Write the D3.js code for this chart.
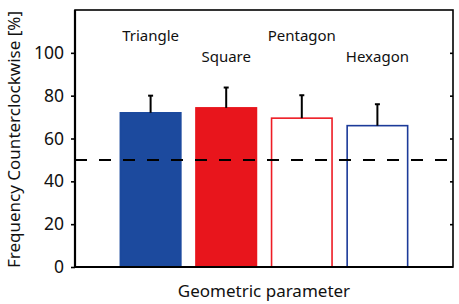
<!DOCTYPE html>
<html>
<head>
<meta charset="utf-8">
<script src="https://d3js.org/d3.v7.min.js"></script>
<style>
  body { margin: 0; background: #fff; }
  text { font-family: "Noto Sans", sans-serif; fill: #111; }
</style>
</head>
<body>
<script>
// data
const shapes = ["Triangle", "Square", "Pentagon", "Hexagon"];
const freqCCW = [72, 74.3, 69.5, 66];
const errUp = [8, 9.5, 10.7, 10];
const yTicks = [0, 20, 40, 60, 80, 100];
const chance = 50;

const fills = ["#1c4a9e", "#e8151c", "#fff", "#fff"];
const strokes = ["#1c4a9e", "#e8151c", "#ee1c24", "#1c3a99"];
const labelRow = [0, 1, 0, 1];

const W = 459, H = 304;
const m = { left: 75, right: 6, top: 10, bottom: 37 };

const svg = d3.select("body").append("svg")
    .attr("width", W)
    .attr("height", H);

const x = d3.scaleLinear().domain([0, 5]).range([m.left, W - m.right]);
const y = d3.scaleLinear().domain([0, 120]).range([H - m.bottom, m.top]);
const bw = x(0.82) - x(0);

// bars
svg.selectAll("rect.bar")
    .data(shapes).join("rect")
    .attr("class", "bar")
    .attr("x", (d, i) => x(i + 1) - bw / 2 + 0.75)
    .attr("width", bw - 1.5)
    .attr("y", (d, i) => y(freqCCW[i]))
    .attr("height", (d, i) => y(0) - y(freqCCW[i]))
    .style("fill", (d, i) => fills[i])
    .style("stroke", (d, i) => strokes[i])
    .style("stroke-width", 1.6);

// error bars (upper only)
svg.selectAll("line.err")
    .data(shapes).join("line")
    .attr("class", "err")
    .attr("x1", (d, i) => x(i + 1))
    .attr("x2", (d, i) => x(i + 1))
    .attr("y1", (d, i) => y(freqCCW[i]))
    .attr("y2", (d, i) => y(freqCCW[i] + errUp[i]))
    .style("stroke", "#000")
    .style("stroke-width", 2);
svg.selectAll("line.cap")
    .data(shapes).join("line")
    .attr("class", "cap")
    .attr("x1", (d, i) => x(i + 1) - 2.5)
    .attr("x2", (d, i) => x(i + 1) + 2.5)
    .attr("y1", (d, i) => y(freqCCW[i] + errUp[i]))
    .attr("y2", (d, i) => y(freqCCW[i] + errUp[i]))
    .style("stroke", "#000")
    .style("stroke-width", 2);

// chance level
svg.append("line")
    .attr("x1", x(0)).attr("x2", x(5))
    .attr("y1", y(chance)).attr("y2", y(chance))
    .style("stroke", "#000")
    .style("stroke-width", 2)
    .style("stroke-dasharray", "12,12");

// shape names
svg.selectAll("text.shape")
    .data(shapes).join("text")
    .attr("class", "shape")
    .attr("x", (d, i) => x(i + 1))
    .attr("y", (d, i) => labelRow[i] ? 62 : 41)
    .attr("text-anchor", "middle")
    .style("font-size", "15px")
    .text(d => d);

// frame
svg.append("rect")
    .attr("x", x(0)).attr("y", y(120))
    .attr("width", x(5) - x(0))
    .attr("height", y(0) - y(120))
    .style("fill", "none")
    .style("stroke", "#000")
    .style("stroke-width", 1.6);

// left axis
const yAxis = d3.axisLeft(y).tickValues(yTicks).tickSize(4).tickPadding(7);
svg.append("g")
    .attr("transform", `translate(${x(0)},0)`)
    .call(yAxis)
    .call(g => g.select(".domain").remove())
    .call(g => g.selectAll("line").style("stroke-width", 1.6))
    .call(g => g.selectAll("text").style("font-size", "17.5px")
        .style("font-family", "'Noto Sans', sans-serif"));

// right axis, ticks inward
const yAxisR = d3.axisLeft(y).tickValues(yTicks.slice(1)).tickSize(3).tickFormat("");
svg.append("g")
    .attr("transform", `translate(${x(5)},0)`)
    .call(yAxisR)
    .call(g => g.select(".domain").remove())
    .call(g => g.selectAll("line").style("stroke-width", 1.6));

// thicker left and bottom
svg.append("line")
    .attr("x1", x(0)).attr("x2", x(0))
    .attr("y1", y(120)).attr("y2", y(0) + 1)
    .style("stroke", "#000").style("stroke-width", 2.2);
svg.append("line")
    .attr("x1", x(0)).attr("x2", x(5))
    .attr("y1", y(0)).attr("y2", y(0))
    .style("stroke", "#000").style("stroke-width", 2.2);

// axis titles
svg.append("text")
    .attr("transform", `translate(20,${(y(0) + y(120)) / 2 + 1}) rotate(-90)`)
    .attr("text-anchor", "middle")
    .style("font-size", "17px")
    .text("Frequency Counterclockwise [%]");

svg.append("text")
    .attr("x", (x(0) + x(5)) / 2)
    .attr("y", 297)
    .attr("text-anchor", "middle")
    .style("font-size", "17px")
    .text("Geometric parameter");
</script>
</body>
</html>
